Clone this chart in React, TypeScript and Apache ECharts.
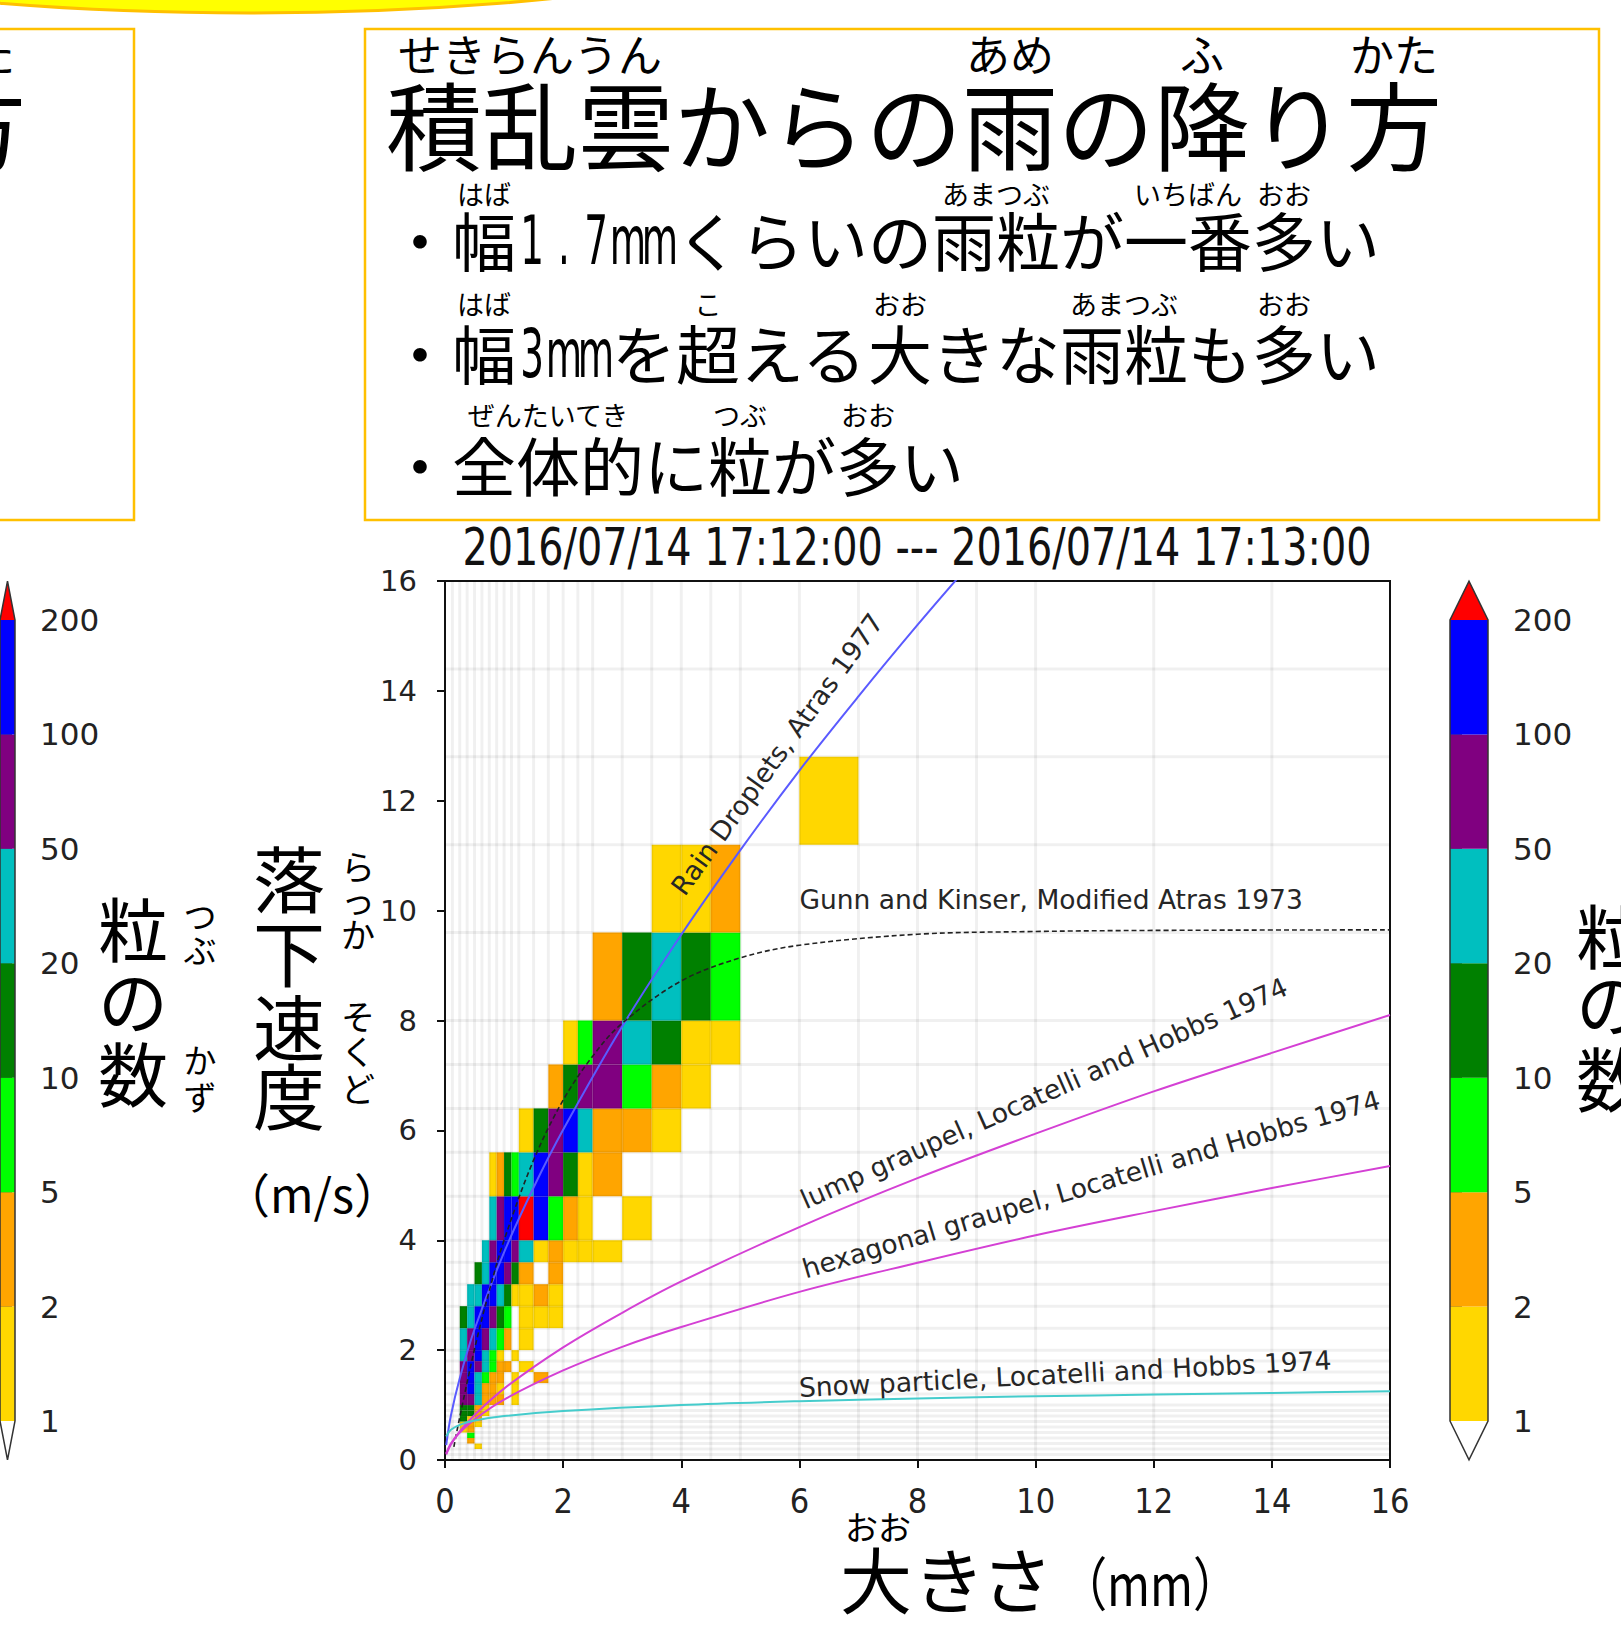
import React, { useEffect, useRef } from "react";
import * as echarts from "echarts";

const W = 1621;
const H = 1636;

// ---- data: bin edges (diameter mm, fall speed m/s) ----
const DIAM_EDGES = [0, 0.125, 0.25, 0.375, 0.5, 0.625, 0.75, 0.875, 1.0, 1.125, 1.25, 1.5, 1.75, 2.0, 2.25, 2.5, 3.0, 3.5, 4.0, 4.5, 5.0, 6.0, 7.0, 8.0, 9.0, 10.0, 12.0, 14.0, 16.0];
const VEL_EDGES = [0, 0.1, 0.2, 0.3, 0.4, 0.5, 0.6, 0.7, 0.8, 0.9, 1.0, 1.2, 1.4, 1.6, 1.8, 2.0, 2.4, 2.8, 3.2, 3.6, 4.0, 4.8, 5.6, 6.4, 7.2, 8.0, 9.6, 11.2, 12.8, 14.4, 16.0];

// [velocity bin index, [[diameter bin index, particle count], ...]]
const COUNT_ROWS: [number, [number, number][]][] = [
  [2, [[4, 1]]],
  [3, [[3, 3]]],
  [4, [[3, 7]]],
  [5, [[2, 1], [3, 3]]],
  [6, [[2, 1], [3, 3], [4, 1]]],
  [7, [[2, 15], [3, 1], [4, 3]]],
  [8, [[2, 15], [3, 15], [4, 3], [5, 1]]],
  [9, [[2, 15], [3, 15], [4, 3], [5, 1]]],
  [10, [[2, 70], [3, 70], [4, 35], [5, 3], [6, 3], [7, 3], [9, 1]]],
  [11, [[2, 70], [3, 150], [4, 35], [5, 3], [6, 3], [7, 1], [9, 1]]],
  [12, [[2, 70], [3, 150], [4, 35], [5, 7], [6, 3], [7, 3], [9, 1], [11, 3]]],
  [13, [[2, 70], [3, 150], [4, 70], [5, 35], [6, 7], [7, 3], [8, 3], [10, 1]]],
  [14, [[2, 35], [3, 70], [4, 150], [5, 35], [6, 7], [7, 1], [9, 1]]],
  [15, [[2, 35], [3, 70], [4, 150], [5, 70], [6, 35], [7, 7], [8, 3], [10, 1]]],
  [16, [[2, 15], [3, 35], [4, 150], [5, 150], [6, 70], [7, 15], [8, 7], [10, 1], [11, 1], [12, 1]]],
  [17, [[3, 35], [4, 35], [5, 150], [6, 150], [7, 35], [8, 15], [9, 1], [10, 1], [11, 3], [12, 1]]],
  [18, [[4, 15], [5, 35], [6, 150], [7, 150], [8, 70], [9, 15], [10, 3], [12, 3]]],
  [19, [[5, 35], [6, 70], [7, 150], [8, 150], [9, 70], [10, 35], [11, 1], [12, 3], [13, 1], [14, 1], [15, 1]]],
  [20, [[6, 35], [7, 70], [8, 150], [9, 150], [10, 250], [11, 150], [12, 7], [13, 3], [14, 1], [16, 1]]],
  [21, [[6, 1], [7, 3], [8, 15], [9, 7], [10, 35], [11, 150], [12, 70], [13, 15], [14, 1], [15, 3]]],
  [22, [[10, 1], [11, 15], [12, 70], [13, 150], [14, 35], [15, 3], [16, 3], [17, 1]]],
  [23, [[12, 3], [13, 15], [14, 70], [15, 70], [16, 7], [17, 3], [18, 1]]],
  [24, [[13, 1], [14, 7], [15, 70], [16, 35], [17, 15], [18, 1], [19, 1]]],
  [25, [[15, 3], [16, 15], [17, 35], [18, 15], [19, 7]]],
  [26, [[17, 1], [18, 1], [19, 3]]],
  [27, [[21, 1]]],
];

// colour scale
const CB_LEVELS = [1, 2, 5, 10, 20, 50, 100, 200];
const CB_COLORS = ["#FFD700", "#FFA500", "#00FF00", "#008000", "#00BFBF", "#800080", "#0000FF"];
const CB_OVER = "#FF0000";
const CB_UNDER = "#FFFFFF";

// reference fall-speed curves
const RAIN_D = [0.02, 0.1, 0.25, 0.5, 1, 1.5, 2, 3, 4, 5, 6, 7, 8, 8.8];
const RAIN_V = [0.27, 0.81, 1.49, 2.38, 3.78, 4.96, 6.01, 7.89, 9.56, 11.1, 12.55, 13.9, 15.2, 16.2];
const GUNN_D = [0.15, 0.25, 0.5, 0.75, 1, 1.5, 2, 2.5, 3, 4, 5, 6, 8, 10, 12, 16];
const GUNN_V = [0.24, 0.78, 2.02, 3.08, 4.0, 5.46, 6.55, 7.35, 7.95, 8.72, 9.14, 9.37, 9.57, 9.62, 9.64, 9.65];
const LUMP_D = [0.02, 0.1, 0.25, 0.5, 1, 2, 3, 4, 6, 8, 10, 12, 14, 16];
const LUMP_V = [0.1, 0.28, 0.52, 0.82, 1.3, 2.05, 2.68, 3.25, 4.24, 5.13, 5.94, 6.71, 7.41, 8.1];
const HEX_D = [0.02, 0.1, 0.25, 0.5, 1, 2, 3, 4, 6, 8, 10, 12, 14, 16];
const HEX_V = [0.12, 0.3, 0.5, 0.74, 1.1, 1.63, 2.06, 2.42, 3.06, 3.59, 4.09, 4.53, 4.95, 5.35];
const SNOW_D = [0.02, 0.1, 0.25, 0.5, 1, 2, 4, 6, 8, 10, 12, 14, 16];
const SNOW_V = [0.43, 0.55, 0.64, 0.72, 0.8, 0.89, 1.0, 1.07, 1.12, 1.16, 1.19, 1.22, 1.25];

const CURVE_LABELS = [
  { text: "Rain Droplets, Atras 1977", d: 5.62, v: 12.85, rot: 54, align: "center" },
  { text: "Gunn and Kinser, Modified Atras 1973", d: 6.0, v: 10.2, rot: 0, align: "left" },
  { text: "lump graupel, Locatelli and Hobbs 1974", d: 10.14, v: 6.68, rot: 24, align: "center" },
  { text: "hexagonal graupel, Locatelli and Hobbs 1974", d: 10.94, v: 5.02, rot: 16.5, align: "center" },
  { text: "Snow particle, Locatelli and Hobbs 1974", d: 10.5, v: 1.57, rot: 3, align: "center" },
];

const TITLE = "2016/07/14 17:12:00 --- 2016/07/14 17:13:00";
const X_MAX = 16;
const Y_MAX = 16;
const TICK_STEP = 2;

// ---- layout ----
const PLOT = { left: 445, top: 581, width: 945, height: 879 };
const CB_R = { left: 1450, top: 620, width: 38, height: 801 };
const CB_L = { left: -23, top: 620, width: 38, height: 801 };
const EXTEND_FRAC = 0.34;

const JP = "'Noto Sans CJK JP', 'Noto Sans CJK SC', sans-serif";
const LAT = "'DejaVu Sans', sans-serif";
const COND = "'DejaVu Sans Condensed', 'Liberation Sans Narrow', 'DejaVu Sans', sans-serif";
const JP_SHIFT = 0.075; // ink of CJK glyphs sits a bit low with middle alignment

function colorFor(n: number): string {
  if (n >= CB_LEVELS[CB_LEVELS.length - 1]) return CB_OVER;
  for (let i = CB_LEVELS.length - 2; i >= 0; i--) if (n >= CB_LEVELS[i]) return CB_COLORS[i];
  return CB_UNDER;
}

const CELLS = COUNT_ROWS.flatMap(([vi, cells]) =>
  cells.map(([di, n]) => [DIAM_EDGES[di], DIAM_EDGES[di + 1], VEL_EDGES[vi], VEL_EDGES[vi + 1], n])
);

function txt(text: string, x: number, y: number, fontSize: number, o: any = {}) {
  const font = o.font || JP;
  const dy = font === JP ? -JP_SHIFT * fontSize : 0;
  return {
    type: "text",
    x,
    y: y + dy,
    z: 20,
    rotation: o.rotation || 0,
    scaleX: o.scaleX || 1,
    style: {
      text,
      fontSize,
      fontFamily: font,
      fill: o.fill || "#000",
      align: o.align || "center",
      verticalAlign: "middle",
      fontWeight: o.weight || "normal",
    },
  };
}

type Seg = { t: string; r?: string };
function rubyLine(segs: Seg[], x0: number, yMain: number, yRuby: number, fs: number, rfs: number) {
  const out: any[] = [];
  let x = x0;
  for (const s of segs) {
    const start = x;
    let run = "";
    let runX = x;
    const flush = () => {
      if (run) out.push(txt(run, runX, yMain, fs, { align: "left" }));
      run = "";
    };
    for (const ch of s.t) {
      const ascii = ch.charCodeAt(0) < 128;
      if (ascii) {
        flush();
        out.push(txt(ch, x + fs / 4, yMain - fs * 0.04, fs * 1.06, { font: LAT, scaleX: 0.55 }));
        x += fs / 2;
        runX = x;
      } else {
        if (!run) runX = x;
        run += ch;
        x += fs;
      }
    }
    flush();
    if (s.r) out.push(txt(s.r, (start + x) / 2, yRuby, rfs));
  }
  return out;
}

function vertical(chars: string, x: number, ys: number[], fs: number) {
  return chars.split("").map((c, i) => txt(c, x, ys[i], fs));
}

function buildGraphics(chart: any) {
  const g: any[] = [];
  // decorations
  g.push({ type: "ellipse", z: 1, shape: { cx: 250, cy: -107, rx: 634, ry: 120 }, style: { fill: "#FFFF00", stroke: "#FFC000", lineWidth: 3 } });
  g.push({ type: "rect", z: 1, shape: { x: -5, y: 29, width: 139, height: 491 }, style: { fill: "#fff", stroke: "#FFC000", lineWidth: 2.5 } });
  g.push({ type: "rect", z: 1, shape: { x: 365, y: 29, width: 1234, height: 491 }, style: { fill: "#fff", stroke: "#FFC000", lineWidth: 2.5 } });

  // cut-off text in the left box
  g.push(txt("た", 15, 56, 44, { align: "right" }));
  g.push(txt("方", 26, 129, 96, { align: "right" }));

  // heading with ruby
  g.push(...rubyLine(
    [{ t: "積乱雲", r: "せきらんうん" }, { t: "からの" }, { t: "雨", r: "あめ" }, { t: "の" }, { t: "降", r: "ふ" }, { t: "り" }, { t: "方", r: "かた" }],
    386, 129, 56, 96, 44
  ));
  g.push(...rubyLine(
    [{ t: "・" }, { t: "幅", r: "はば" }, { t: "1.7mm" }, { t: "くらいの" }, { t: "雨粒", r: "あまつぶ" }, { t: "が" }, { t: "一番", r: "いちばん" }, { t: "多", r: "おお" }, { t: "い" }],
    388, 243, 196, 64, 27
  ));
  g.push(...rubyLine(
    [{ t: "・" }, { t: "幅", r: "はば" }, { t: "3mm" }, { t: "を" }, { t: "超", r: "こ" }, { t: "える" }, { t: "大", r: "おお" }, { t: "きな" }, { t: "雨粒", r: "あまつぶ" }, { t: "も" }, { t: "多", r: "おお" }, { t: "い" }],
    388, 356, 306, 64, 27
  ));
  g.push(...rubyLine(
    [{ t: "・" }, { t: "全体的", r: "ぜんたいてき" }, { t: "に" }, { t: "粒", r: "つぶ" }, { t: "が" }, { t: "多", r: "おお" }, { t: "い" }],
    388, 468, 417, 64, 27
  ));

  // chart title
  g.push(txt(TITLE, 917, 548, 51, { font: LAT, scaleX: 0.78, fill: "#111" }));

  // y axis label
  g.push(...vertical("落下速度", 289, [881, 955, 1029, 1098], 72));
  g.push(...vertical("らっか", 358, [868, 902, 936], 34));
  g.push(...vertical("そくど", 358, [1018, 1053, 1090], 34));
  g.push(txt("（m/s）", 312, 1196, 47));

  // x axis label
  g.push(txt("大", 876, 1582, 72));
  g.push(txt("き", 949, 1582, 72));
  g.push(txt("さ", 1017, 1582, 72));
  g.push(txt("（mm）", 1150, 1585, 58, { scaleX: 0.8 }));
  g.push(txt("おお", 878, 1528, 33));

  // colour bar labels
  g.push(...vertical("粒の数", 133, [932, 1004, 1077], 70));
  g.push(...vertical("つぶ", 200, [917, 951], 33));
  g.push(...vertical("かず", 200, [1061, 1098], 33));
  g.push(...vertical("粒の数", 1611, [939, 1007, 1082], 70));

  // curve annotations, placed in data coordinates
  for (const L of CURVE_LABELS) {
    const p = chart.convertToPixel({ gridIndex: 0 }, [L.d, L.v]);
    g.push(txt(L.text, p[0], p[1], 26.5, { font: LAT, fill: "#262626", align: L.align, rotation: (L.rot * Math.PI) / 180 }));
  }
  return g;
}

function colorbarSeries(idx: number) {
  const n = CB_COLORS.length;
  return [
    {
      type: "custom",
      xAxisIndex: idx,
      yAxisIndex: idx,
      z: 2,
      silent: true,
      data: CB_COLORS.map((c, i) => [0, i]),
      renderItem: (params: any, api: any) => {
        const i = api.value(1);
        const a = api.coord([0, i]);
        const b = api.coord([1, i + 1]);
        return { type: "rect", shape: { x: a[0], y: b[1], width: b[0] - a[0], height: a[1] - b[1] }, style: { fill: CB_COLORS[i] } };
      },
    },
    {
      type: "custom",
      xAxisIndex: idx,
      yAxisIndex: idx,
      z: 3,
      silent: true,
      data: [[0, 0]],
      renderItem: (params: any, api: any) => {
        const bl = api.coord([0, 0]);
        const br = api.coord([1, 0]);
        const tl = api.coord([0, n]);
        const tr = api.coord([1, n]);
        const unit = bl[1] - api.coord([0, 1])[1];
        const ext = unit * EXTEND_FRAC;
        const cx = (bl[0] + br[0]) / 2;
        return {
          type: "group",
          children: [
            { type: "polygon", shape: { points: [tl, tr, [cx, tl[1] - ext]] }, style: { fill: CB_OVER } },
            { type: "polygon", shape: { points: [bl, br, [cx, bl[1] + ext]] }, style: { fill: CB_UNDER } },
            {
              type: "polygon",
              shape: { points: [bl, [cx, bl[1] + ext], br, tr, [cx, tl[1] - ext], tl] },
              style: { fill: "none", stroke: "#333", lineWidth: 1.5 },
            },
          ],
        };
      },
    },
  ];
}

function lineSeries(D: number[], V: number[], color: string, width: number, type: any = "solid") {
  return {
    type: "line",
    xAxisIndex: 0,
    yAxisIndex: 0,
    z: 5,
    silent: true,
    showSymbol: false,
    smooth: 0.35,
    clip: true,
    data: D.map((d, i) => [d, V[i]]),
    lineStyle: { color, width, type },
  };
}

function cbYAxis(gridIndex: number) {
  return {
    type: "value",
    gridIndex,
    min: 0,
    max: CB_COLORS.length,
    interval: 1,
    position: "right",
    axisLine: { show: false },
    splitLine: { show: false },
    axisTick: { show: true, length: 12, lineStyle: { color: "#222", width: 1.5 } },
    axisLabel: {
      margin: 25,
      fontSize: 31,
      fontFamily: LAT,
      color: "#222",
      formatter: (v: number) => String(CB_LEVELS[Math.round(v)]),
    },
  };
}

function buildOption() {
  const gridLineStyle = { stroke: "rgba(0,0,0,0.058)", lineWidth: 3 };
  return {
    animation: false,
    backgroundColor: "#ffffff",
    textStyle: { fontFamily: LAT },
    grid: [
      { ...PLOT, show: true, borderColor: "#111", borderWidth: 2, backgroundColor: "transparent" },
      { ...CB_R },
      { ...CB_L },
    ],
    xAxis: [
      {
        type: "value",
        gridIndex: 0,
        min: 0,
        max: X_MAX,
        interval: TICK_STEP,
        axisLine: { show: true, onZero: false, lineStyle: { color: "#111", width: 2 } },
        axisTick: { show: true, length: 8, lineStyle: { color: "#111", width: 2 } },
        axisLabel: { margin: 24, fontSize: 34, fontFamily: COND, color: "#222" },
        splitLine: { show: false },
      },
      { type: "value", gridIndex: 1, min: 0, max: 1, show: false },
      { type: "value", gridIndex: 2, min: 0, max: 1, show: false },
    ],
    yAxis: [
      {
        type: "value",
        gridIndex: 0,
        min: 0,
        max: Y_MAX,
        interval: TICK_STEP,
        axisLine: { show: true, onZero: false, lineStyle: { color: "#111", width: 2 } },
        axisTick: { show: true, length: 8, lineStyle: { color: "#111", width: 2 } },
        axisLabel: { margin: 28, fontSize: 29, fontFamily: LAT, color: "#222" },
        splitLine: { show: false },
      },
      cbYAxis(1),
      cbYAxis(2),
    ],
    series: [
      {
        type: "custom",
        xAxisIndex: 0,
        yAxisIndex: 0,
        z: 2,
        silent: true,
        encode: { x: [0, 1], y: [2, 3] },
        data: CELLS,
        renderItem: (params: any, api: any) => {
          const p0 = api.coord([api.value(0), api.value(3)]);
          const p1 = api.coord([api.value(1), api.value(2)]);
          return {
            type: "rect",
            shape: { x: p0[0], y: p0[1], width: p1[0] - p0[0], height: p1[1] - p0[1] },
            style: { fill: colorFor(api.value(4)) },
          };
        },
      },
      {
        type: "custom",
        xAxisIndex: 0,
        yAxisIndex: 0,
        z: 3,
        silent: true,
        data: DIAM_EDGES.filter((d) => d > 0 && d < X_MAX).map((d) => [d, 0]),
        renderItem: (params: any, api: any) => {
          const cs = params.coordSys;
          const x = api.coord([api.value(0), 0])[0];
          return { type: "line", shape: { x1: x, y1: cs.y, x2: x, y2: cs.y + cs.height }, style: gridLineStyle };
        },
      },
      {
        type: "custom",
        xAxisIndex: 0,
        yAxisIndex: 0,
        z: 3,
        silent: true,
        data: VEL_EDGES.filter((v) => v > 0 && v < Y_MAX).map((v) => [0, v]),
        renderItem: (params: any, api: any) => {
          const cs = params.coordSys;
          const y = api.coord([0, api.value(1)])[1];
          return { type: "line", shape: { x1: cs.x, y1: y, x2: cs.x + cs.width, y2: y }, style: gridLineStyle };
        },
      },
      lineSeries(RAIN_D, RAIN_V, "#5a5aff", 2),
      lineSeries(GUNN_D, GUNN_V, "#222", 1.6, [5, 3]),
      lineSeries(LUMP_D, LUMP_V, "#d440d4", 2),
      lineSeries(HEX_D, HEX_V, "#d440d4", 2),
      lineSeries(SNOW_D, SNOW_V, "#45cccc", 2),
      ...colorbarSeries(1),
      ...colorbarSeries(2),
    ],
  };
}

export default function App() {
  const ref = useRef<HTMLDivElement>(null);
  useEffect(() => {
    const el = ref.current!;
    const chart = echarts.init(el, undefined, { renderer: "svg", width: W, height: H });
    chart.setOption(buildOption() as any);
    chart.setOption({ graphic: buildGraphics(chart) } as any);
    return () => chart.dispose();
  }, []);
  return (
    <div
      ref={ref}
      style={{ position: "absolute", left: 0, top: 0, width: W, height: H, background: "#fff" }}
    />
  );
}
